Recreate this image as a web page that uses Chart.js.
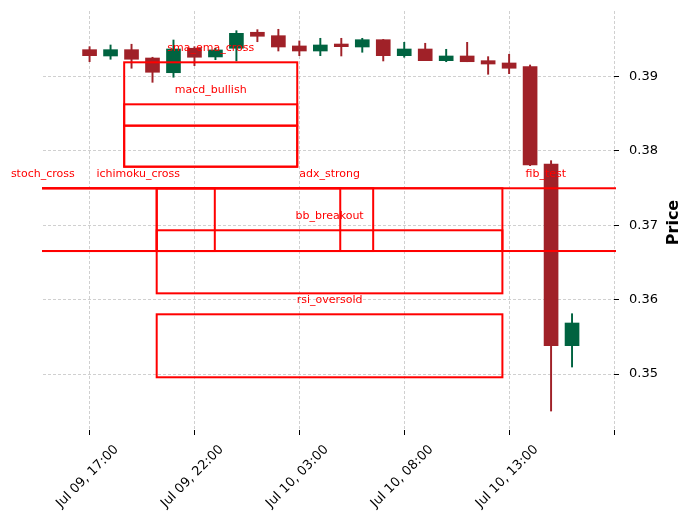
<!DOCTYPE html>
<html>
<head>
<meta charset="utf-8">
<script src="https://cdn.jsdelivr.net/npm/chart.js@4.4.1/dist/chart.umd.min.js"></script>
<style>
html,body{margin:0;padding:0;background:#ffffff;}
#c{display:block;}
</style>
</head>
<body>
<canvas id="c" width="692" height="521"></canvas>
<script>
// Hours after Jul 09, 17:00 (hourly candles)
const candleHours = [0,1,2,3,4,5,6,7,8,9,10,11,12,13,14,15,16,17,18,19,20,21,22,23];
const opens  = [0.39362,0.39277,0.39362,0.39250,0.39052,0.39381,0.39264,0.39381,0.39596,0.39550,0.39412,0.39344,0.39438,0.39398,0.39496,0.39281,0.39371,0.39214,0.39277,0.39214,0.39183,0.39133,0.37824,0.35381];
const highs  = [0.39402,0.39425,0.39435,0.39260,0.39492,0.39402,0.39381,0.39617,0.39631,0.39636,0.39479,0.39515,0.39515,0.39515,0.39500,0.39461,0.39448,0.39367,0.39461,0.39268,0.39300,0.39156,0.37869,0.35811];
const lows   = [0.39200,0.39233,0.39112,0.38923,0.38991,0.39147,0.39227,0.39210,0.39469,0.39344,0.39281,0.39281,0.39277,0.39327,0.39210,0.39260,0.39214,0.39200,0.39200,0.39031,0.39039,0.37802,0.34502,0.35094];
const closes = [0.39281,0.39362,0.39233,0.39058,0.39371,0.39260,0.39358,0.39582,0.39542,0.39398,0.39344,0.39425,0.39402,0.39496,0.39281,0.39371,0.39214,0.39277,0.39200,0.39169,0.39112,0.37811,0.35381,0.35686];

const xTickHours  = [0,5,10,15,20,25];
const xTickLabels = ['Jul 09, 17:00','Jul 09, 22:00','Jul 10, 03:00','Jul 10, 08:00','Jul 10, 13:00',''];
const yTickValues = [0.35,0.36,0.37,0.38,0.39];

// Signal zones (hours after Jul 09 17:00, price range)
const zoneNames = ['sma_ema_cross','macd_bullish','','stoch_cross','ichimoku_cross','','adx_strong','bb_breakout','rsi_oversold','fib_test'];
const zoneStart = [1.65, 1.65, 1.65, -10.43, -7.31, -12.0, 3.20, 3.20, 3.20, 3.20];
const zoneEnd   = [9.90, 9.90, 9.90, 5.97, 11.95, 13.52, 19.68, 19.68, 19.68, 40.30];
const zoneLow   = [0.37788,0.38340,0.37788,0.36654,0.36654,0.36654,0.36085,0.36654,0.34956,0.36654];
const zoneHigh  = [0.39192,0.38627,0.38340,0.37498,0.37498,0.37498,0.37498,0.36933,0.35803,0.37498];

const UP = '#006340', DOWN = '#a02128';
const candleColor = (i) => closes[i] >= opens[i] ? UP : DOWN;

const zonesPlugin = {
  id: 'zones',
  afterDatasetsDraw(chart) {
    const {ctx, chartArea: a, scales: {x, y}} = chart;
    ctx.save();
    ctx.beginPath();
    ctx.rect(a.left - 1, a.top - 1, a.right - a.left + 3, a.bottom - a.top + 2);
    ctx.clip();
    ctx.strokeStyle = '#ff0000';
    ctx.lineWidth = 2;
    for (let i = 0; i < zoneNames.length; i++) {
      const x1 = x.getPixelForValue(zoneStart[i]);
      const x2 = x.getPixelForValue(zoneEnd[i]);
      const y1 = y.getPixelForValue(zoneHigh[i]);
      const y2 = y.getPixelForValue(zoneLow[i]);
      ctx.strokeRect(x1, y1, x2 - x1, y2 - y1);
    }
    ctx.restore();
    ctx.save();
    ctx.fillStyle = '#ff0000';
    ctx.font = '11px "DejaVu Sans"';
    ctx.textAlign = 'center';
    ctx.textBaseline = 'middle';
    for (let i = 0; i < zoneNames.length; i++) {
      if (!zoneNames[i]) continue;
      const cx = (x.getPixelForValue(zoneStart[i]) + x.getPixelForValue(zoneEnd[i])) / 2;
      const ty = y.getPixelForValue(zoneHigh[i]);
      ctx.fillText(zoneNames[i], cx, ty - 14.3);
    }
    ctx.restore();
  },
  afterDraw(chart) {
    const {ctx, chartArea: a} = chart;
    ctx.save();
    ctx.translate(674, (a.top + a.bottom) / 2 + 2);
    ctx.rotate(-Math.PI / 2);
    ctx.fillStyle = '#000000';
    ctx.font = 'bold 16px "DejaVu Sans"';
    ctx.textAlign = 'center';
    ctx.textBaseline = 'middle';
    ctx.fillText('Price', 0, 0);
    ctx.restore();
  }
};

new Chart(document.getElementById('c'), {
  type: 'bar',
  data: {
    datasets: [
      {
        label: 'body',
        data: candleHours.map((h, i) => ({x: h, y: [opens[i], closes[i]]})),
        backgroundColor: (c) => candleColor(c.dataIndex),
        borderWidth: 0,
        barThickness: 14,
        grouped: false,
        order: 1
      },
      {
        label: 'wick',
        data: candleHours.map((h, i) => ({x: h, y: [lows[i], highs[i]]})),
        backgroundColor: (c) => candleColor(c.dataIndex),
        borderWidth: 0,
        barThickness: 1.3,
        grouped: false,
        order: 2
      }
    ]
  },
  options: {
    responsive: false,
    animation: false,
    devicePixelRatio: 1,
    layout: { padding: { left: 43, top: 11, right: 0, bottom: 0 } },
    plugins: { legend: { display: false }, tooltip: { enabled: false } },
    scales: {
      x: {
        type: 'linear',
        min: -2.22,
        max: 25,
        offset: false,
        afterBuildTicks: (ax) => { ax.ticks = xTickHours.map(v => ({value: v})); },
        afterFit: (ax) => { ax.height = 91; ax.paddingLeft = 0; ax.paddingRight = 0; },
        ticks: {
          autoSkip: false,
          minRotation: 45,
          maxRotation: 45,
          labelOffset: 27,
          padding: 7,
          color: '#000000',
          font: { family: 'DejaVu Sans', size: 13 },
          callback: (v) => { const k = xTickHours.indexOf(v); return k >= 0 ? xTickLabels[k] : ''; }
        },
        grid: { offset: false, color: '#c4c4c4', lineWidth: 0.8, tickColor: '#000000', tickWidth: 1, tickLength: 5, tickBorderDash: [] },
        border: { display: false, dash: [3, 2] }
      },
      y: {
        position: 'right',
        min: 0.34247,
        max: 0.39882,
        afterBuildTicks: (ax) => { ax.ticks = yTickValues.map(v => ({value: v})); },
        afterFit: (ax) => { ax.width = 78; ax.paddingTop = 0; ax.paddingBottom = 0; },
        ticks: {
          padding: 10,
          color: '#000000',
          font: { family: 'DejaVu Sans', size: 13 },
          callback: (v) => v.toFixed(2)
        },
        grid: { color: '#c4c4c4', lineWidth: 0.8, tickColor: '#000000', tickWidth: 1, tickLength: 5, tickBorderDash: [] },
        border: { display: false, dash: [3, 2] }
      }
    }
  },
  plugins: [zonesPlugin]
});
</script>
</body>
</html>
